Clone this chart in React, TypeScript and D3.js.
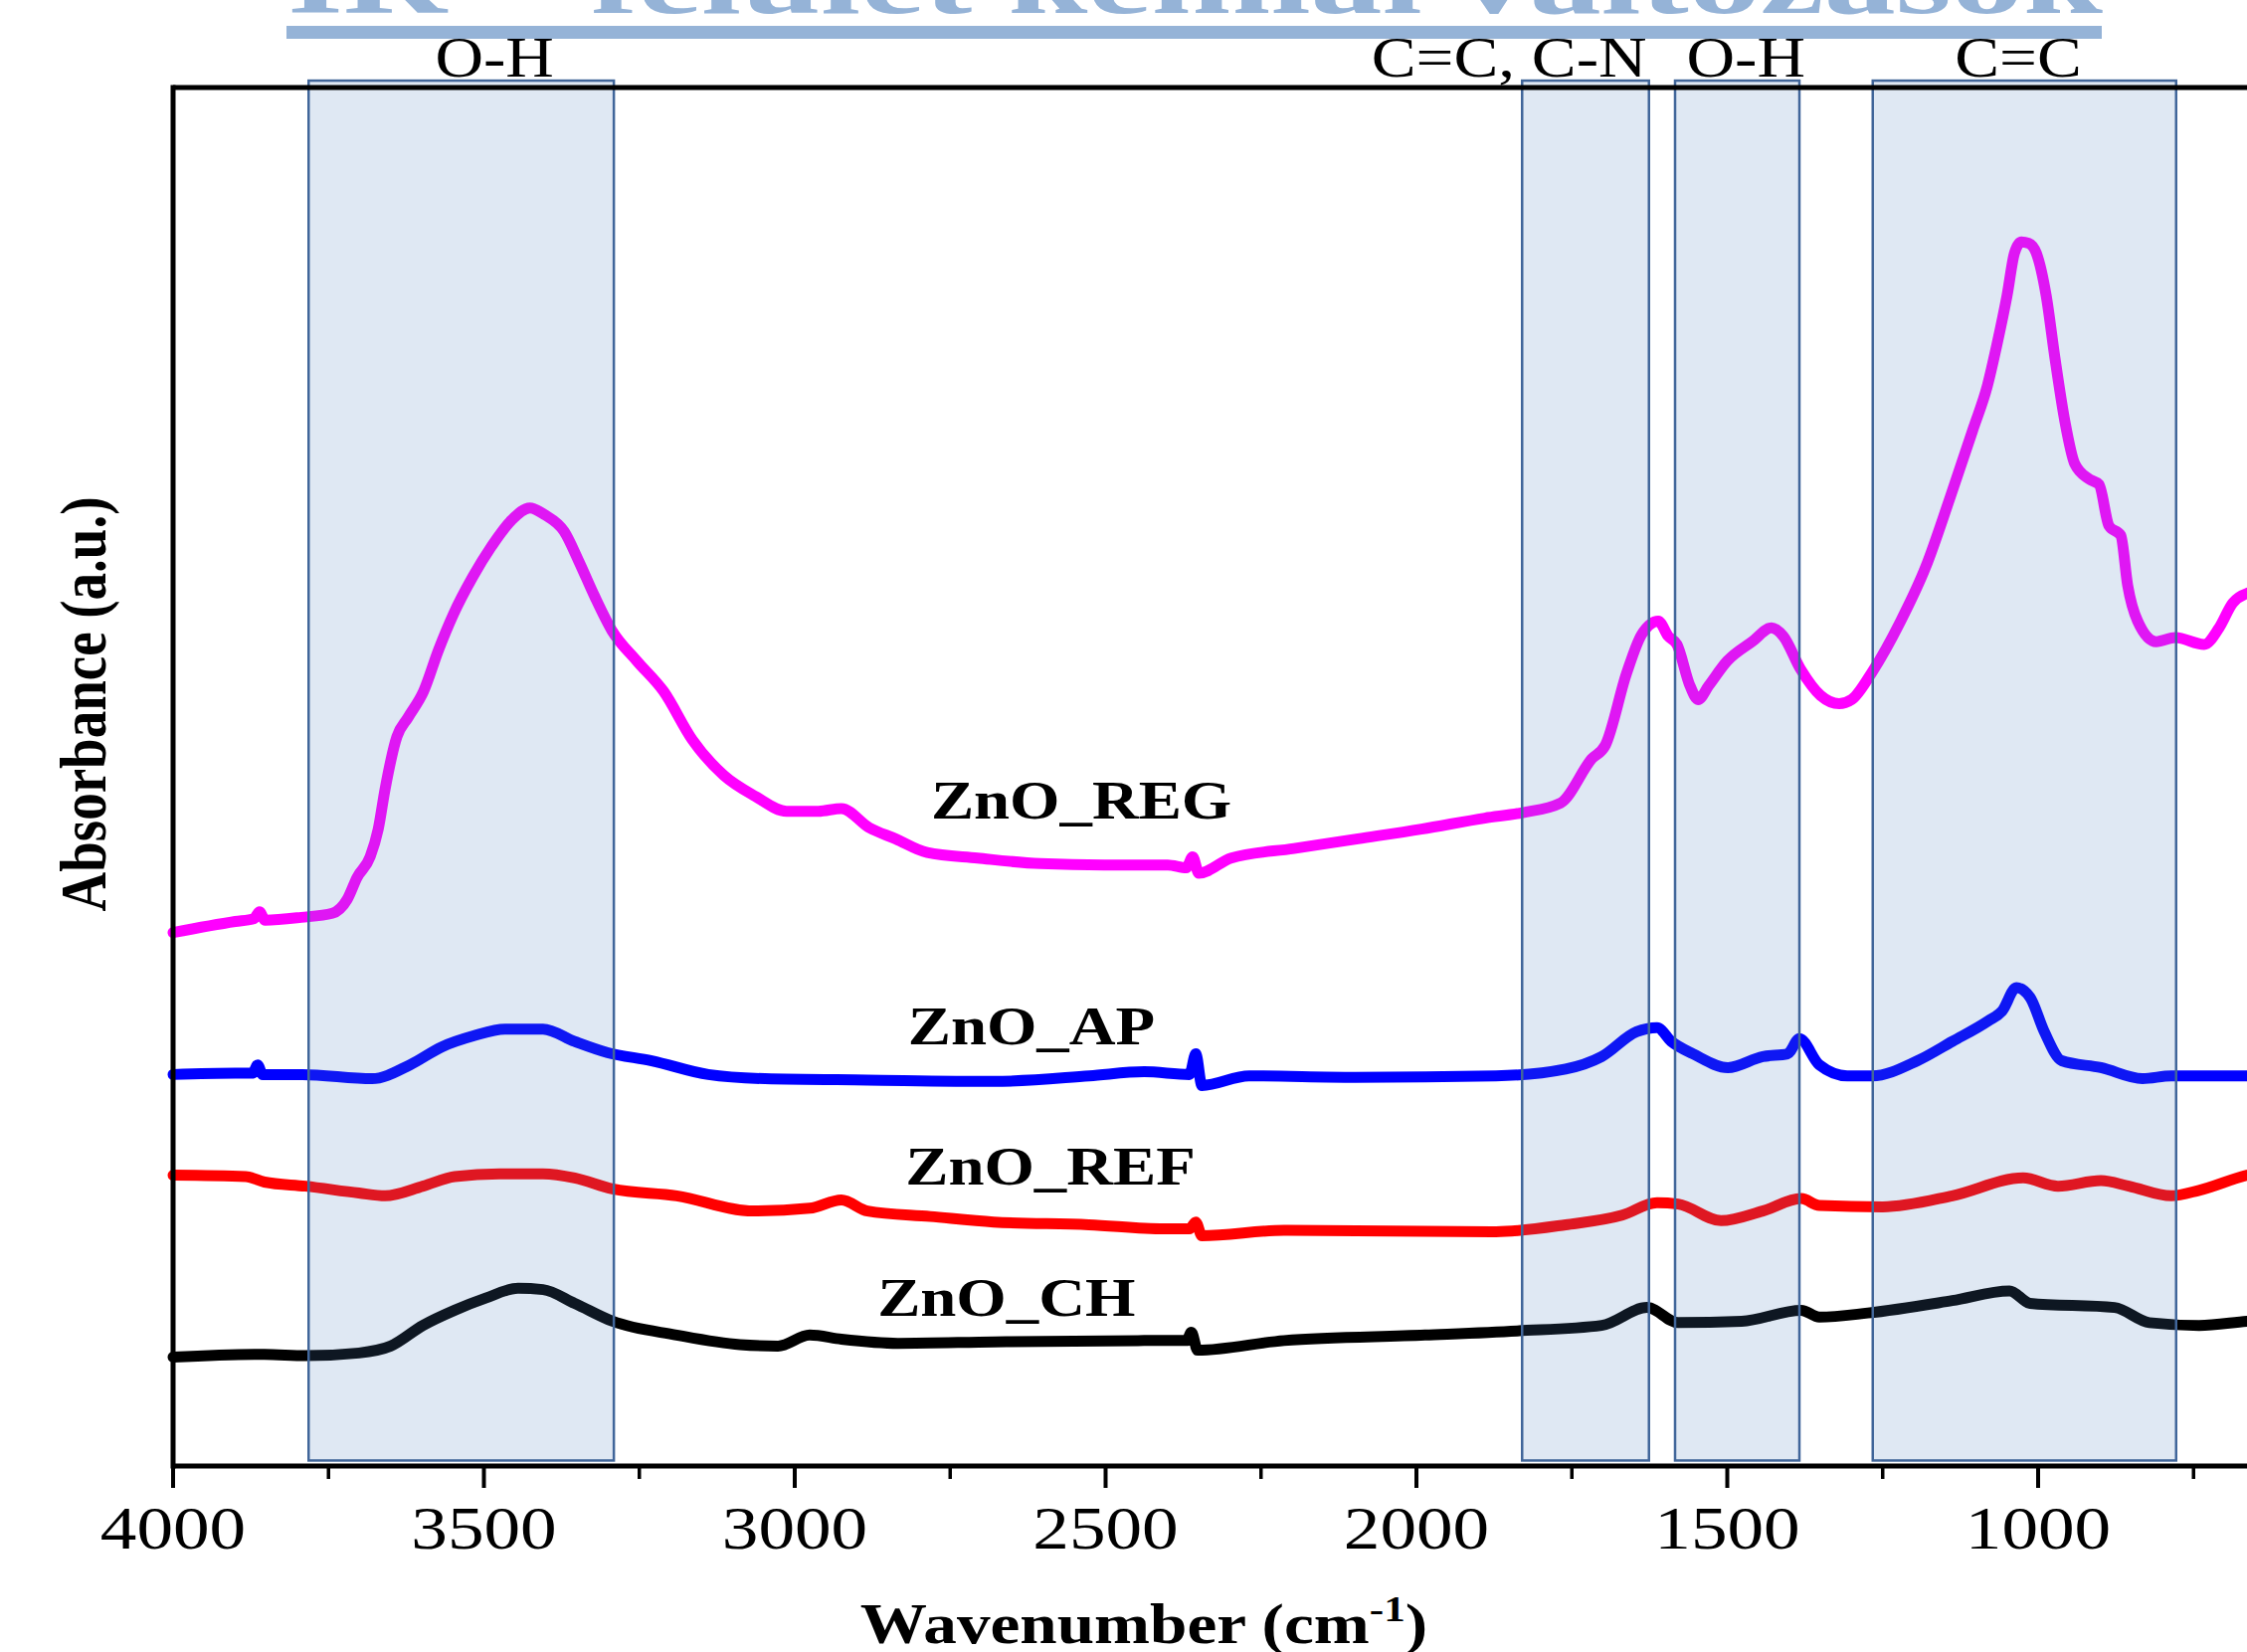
import React from 'react';
import * as d3 from 'd3';

// FTIR spectra, wavenumber (cm-1) vs absorbance (a.u., stacked)
const znoREG: [number, number][] = [
  [4000, 0.387], [3900, 0.395], [3870, 0.397], [3861, 0.402], [3852, 0.396], [3794, 0.398], [3744, 0.401],
  [3720, 0.411], [3704, 0.427], [3683, 0.442], [3670, 0.462], [3659, 0.491], [3640, 0.529],
  [3622, 0.543], [3597, 0.562], [3573, 0.592], [3549, 0.618], [3518, 0.645], [3488, 0.667],
  [3456, 0.686], [3426, 0.695], [3402, 0.69], [3371, 0.678], [3347, 0.656], [3322, 0.631],
  [3294, 0.606], [3254, 0.584], [3211, 0.562], [3165, 0.527], [3114, 0.501], [3064, 0.486],
  [3013, 0.475], [2962, 0.475], [2925, 0.477], [2880, 0.463], [2838, 0.455], [2787, 0.445],
  [2706, 0.441], [2605, 0.437], [2502, 0.436], [2400, 0.436], [2370, 0.434], [2360, 0.442],
  [2350, 0.43], [2298, 0.441], [2197, 0.448], [2094, 0.455], [1992, 0.462], [1890, 0.47],
  [1829, 0.474], [1768, 0.481], [1718, 0.513], [1696, 0.523], [1662, 0.575], [1638, 0.603],
  [1611, 0.613], [1595, 0.602], [1581, 0.596], [1560, 0.566], [1547, 0.556], [1530, 0.566],
  [1500, 0.584], [1460, 0.598], [1429, 0.608], [1410, 0.602], [1382, 0.578], [1350, 0.559],
  [1320, 0.553], [1300, 0.556], [1267, 0.576], [1221, 0.613], [1181, 0.652], [1142, 0.702],
  [1104, 0.753], [1082, 0.783], [1066, 0.814], [1050, 0.849], [1038, 0.88], [1027, 0.888],
  [1015, 0.887], [1003, 0.88], [987, 0.849], [973, 0.804], [957, 0.758], [941, 0.727],
  [918, 0.716], [902, 0.712], [886, 0.682], [867, 0.675], [856, 0.639], [840, 0.613],
  [810, 0.598], [779, 0.601], [733, 0.596], [709, 0.608], [687, 0.626], [664, 0.633], [600, 0.638],
];

const znoAP: [number, number][] = [
  [4000, 0.284], [3900, 0.285], [3872, 0.285], [3864, 0.291], [3856, 0.284], [3792, 0.284],
  [3680, 0.281], [3619, 0.291], [3568, 0.304],
  [3517, 0.312], [3466, 0.317], [3405, 0.317], [3354, 0.308], [3302, 0.3], [3230, 0.294],
  [3139, 0.284], [3048, 0.281], [2883, 0.28], [2680, 0.279], [2526, 0.283], [2438, 0.286],
  [2365, 0.284], [2355, 0.299], [2345, 0.276], [2269, 0.283], [2099, 0.282], [1872, 0.283],
  [1760, 0.288], [1702, 0.297], [1646, 0.315], [1613, 0.318], [1590, 0.308], [1555, 0.299],
  [1499, 0.289], [1443, 0.297], [1403, 0.299], [1384, 0.31], [1352, 0.291], [1307, 0.283],
  [1267, 0.283], [1194, 0.294], [1138, 0.308], [1080, 0.323], [1058, 0.33], [1035, 0.347],
  [1013, 0.34], [990, 0.315], [962, 0.294], [899, 0.289], [832, 0.281], [786, 0.283],
  [664, 0.283], [600, 0.283],
];

const znoREF: [number, number][] = [
  [4000, 0.211], [3883, 0.21], [3853, 0.206], [3787, 0.203], [3701, 0.198], [3659, 0.196],
  [3598, 0.203], [3547, 0.21], [3475, 0.212], [3405, 0.212], [3354, 0.209], [3293, 0.201],
  [3190, 0.196], [3067, 0.185], [2976, 0.187], [2925, 0.193], [2883, 0.185], [2782, 0.181],
  [2680, 0.177], [2527, 0.175], [2406, 0.172], [2365, 0.172], [2355, 0.177], [2345, 0.167],
  [2213, 0.171], [1872, 0.17], [1760, 0.175], [1669, 0.182], [1613, 0.191], [1579, 0.19],
  [1510, 0.178], [1443, 0.185], [1381, 0.194], [1352, 0.189], [1250, 0.188], [1138, 0.196],
  [1024, 0.209], [968, 0.203], [899, 0.207], [854, 0.203], [786, 0.196], [741, 0.2],
  [664, 0.211], [600, 0.216],
];

const znoCH: [number, number][] = [
  [4000, 0.079], [3853, 0.081], [3787, 0.08], [3701, 0.082], [3650, 0.087], [3598, 0.102],
  [3547, 0.113], [3496, 0.122], [3445, 0.129], [3405, 0.128], [3354, 0.118], [3293, 0.105],
  [3190, 0.095], [3088, 0.088], [3027, 0.087], [2976, 0.095], [2925, 0.092], [2834, 0.089],
  [2680, 0.09], [2438, 0.091], [2370, 0.091], [2362, 0.097], [2352, 0.084], [2213, 0.091],
  [1986, 0.095], [1838, 0.098], [1702, 0.102], [1629, 0.115], [1579, 0.104], [1477, 0.105],
  [1381, 0.113], [1352, 0.108], [1274, 0.111], [1138, 0.12], [1046, 0.127], [1013, 0.118],
  [877, 0.115], [821, 0.104], [741, 0.102], [664, 0.105], [600, 0.107],
];

const seriesNames = ['ZnO_REG', 'ZnO_AP', 'ZnO_REF', 'ZnO_CH'];
const seriesColors = ['#ff00ff', '#0000ff', '#ff0000', '#000000'];
const seriesData = [znoREG, znoAP, znoREF, znoCH];
// label anchor (wavenumber, absorbance) for each series name
const seriesLabelX = [2781, 2818, 2822, 2867];
const seriesLabelY = [0.47, 0.306, 0.204, 0.109];

// highlighted bands
const bandFrom = [3782, 1830, 1584, 1266];
const bandTo = [3291, 1626, 1384, 778];
const bandLabels = ['O-H', 'C=C, C-N', 'O-H', 'C=C'];
const bandLabelAt = [3483, 1851, 1470, 1032];

const majorTicks = [4000, 3500, 3000, 2500, 2000, 1500, 1000];

const width = 2259;
const height = 1661;
const margin = { left: 174, top: 88, bottom: 187 };
const serif = '"Liberation Serif", "Times New Roman", serif';
const stretch = 1.2;

export default function App() {
  const x = d3.scaleLinear().domain([4000, 400]).range([margin.left, margin.left + 3600 * 0.625]);
  const y = d3.scaleLinear().domain([0, 1]).range([height - margin.bottom, margin.top]);

  const line = d3
    .line<[number, number]>()
    .x(d => x(d[0]))
    .y(d => y(d[1]))
    .curve(d3.curveMonotoneX);

  const minorTicks = d3.range(4000, 399, -250).filter(t => !majorTicks.includes(t));
  const x0 = x(4000);
  const yb = y(0);
  const yt = y(1);
  const xr = x(400);

  return (
    <svg
      width={width}
      height={height}
      style={{ position: 'absolute', left: 0, top: 0, background: '#fff' }}
    >
      {/* title remnant at the top */}
      <text
        x={289}
        y={13}
        textLength={1825}
        lengthAdjust="spacingAndGlyphs"
        fontFamily={serif}
        fontWeight="bold"
        fontSize={96}
        fill="#95b3d7"
      >
        IR – felület kémiai változások
      </text>
      <rect x={288} y={26} width={1825} height={13} fill="#95b3d7" />

      {/* spectra */}
      {seriesData.map((d, i) => (
        <path
          key={seriesNames[i]}
          d={line(d) || ''}
          fill="none"
          stroke={seriesColors[i]}
          strokeWidth={11}
          strokeLinejoin="round"
          strokeLinecap="round"
        />
      ))}

      {/* bands */}
      {bandFrom.map((b, i) => (
        <rect
          key={'band' + i}
          x={x(b)}
          y={y(1.005)}
          width={x(bandTo[i]) - x(b)}
          height={y(0.004) - y(1.005)}
          fill="#4f81bd"
          fillOpacity={0.18}
          stroke="#41669a"
          strokeWidth={2.5}
        />
      ))}

      {/* frame */}
      <line x1={x0} y1={yt} x2={xr} y2={yt} stroke="#000" strokeWidth={5} />
      <line x1={x0} y1={yb} x2={xr} y2={yb} stroke="#000" strokeWidth={5} />
      <line x1={x0} y1={yt - 2.5} x2={x0} y2={yb + 2.5} stroke="#000" strokeWidth={5} />

      {/* ticks */}
      {majorTicks.map(t => (
        <line key={'M' + t} x1={x(t)} x2={x(t)} y1={yb} y2={yb + 22} stroke="#000" strokeWidth={4} />
      ))}
      {minorTicks.map(t => (
        <line key={'m' + t} x1={x(t)} x2={x(t)} y1={yb} y2={yb + 13} stroke="#000" strokeWidth={3.5} />
      ))}
      {majorTicks.map(t => (
        <g key={'L' + t} transform={`translate(${x(t)},${yb + 83}) scale(${stretch},1)`}>
          <text textAnchor="middle" fontFamily={serif} fontSize={61} fill="#000">
            {t}
          </text>
        </g>
      ))}

      {/* band labels */}
      {bandLabels.map((l, i) => (
        <g key={'bl' + i} transform={`translate(${x(bandLabelAt[i])},${yt - 11}) scale(${stretch},1)`}>
          <text textAnchor="middle" fontFamily={serif} fontSize={56} fill="#000">
            {l}
          </text>
        </g>
      ))}

      {/* series labels */}
      {seriesNames.map((n, i) => (
        <g key={'sl' + n} transform={`translate(${x(seriesLabelX[i])},${y(seriesLabelY[i])}) scale(${stretch},1)`}>
          <text fontFamily={serif} fontWeight="bold" fontSize={54} fill="#000">
            {n}
          </text>
        </g>
      ))}

      {/* axis titles */}
      <g transform={`translate(1150,1652) scale(${stretch},1)`}>
        <text textAnchor="middle" fontFamily={serif} fontWeight="bold" fontSize={56} fill="#000">
          Wavenumber (cm
          <tspan fontSize={36} dy={-22}>-1</tspan>
          <tspan dy={22}>)</tspan>
        </text>
      </g>
      <g transform={`translate(106,708) scale(${stretch},1) rotate(-90)`}>
        <text textAnchor="middle" fontFamily={serif} fontWeight="bold" fontSize={55} fill="#000">
          Absorbance (a.u.)
        </text>
      </g>
    </svg>
  );
}
